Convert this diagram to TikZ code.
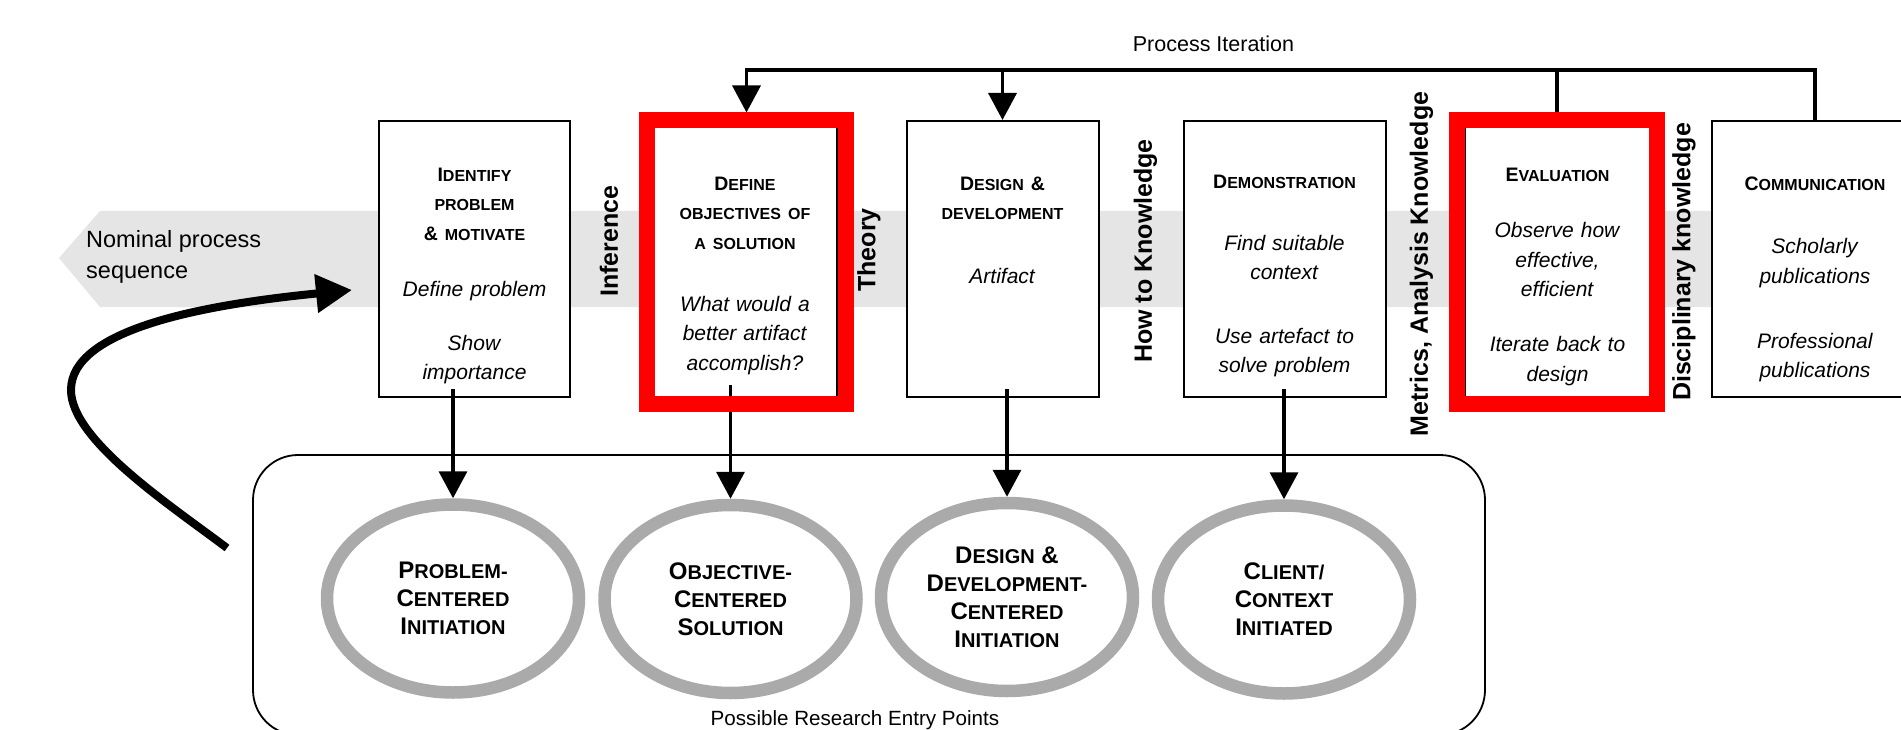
\documentclass[tikz,border=0pt]{standalone}
\usepackage{fontspec}
\setmainfont{Liberation Sans}
\usetikzlibrary{
  arrows.meta,
  calc,
  positioning,
  shapes.geometric
}
\definecolor{band gray}{RGB}{229,229,229}
\definecolor{ring gray}{RGB}{170,170,170}

% Faked small capitals for the step titles and the entry points.
\newcommand\titlebig[1]{{\bfseries\fontsize{19.5}{29.5}\selectfont #1}}
\newcommand\titlesmall[1]{{\bfseries\fontsize{16}{29.5}\selectfont #1}}
\newcommand\ringbig[1]{{\bfseries\fontsize{24}{28}\selectfont #1}}
\newcommand\ringsmall[1]{{\bfseries\fontsize{20}{28}\selectfont #1}}

\tikzset{
  % For the process step boxes.
  stage/.style={
    draw,
    line width=2pt,
    fill=white,
    inner sep=0pt,
    minimum height=276pt},
%
  % For the texts inside the step boxes.
  stage text/.style={
    text width=186pt,
    align=center,
    inner sep=0pt,
    font=\fontsize{21}{29.5}\selectfont},
%
  % For the thick red frames round the highlighted steps.
  highlight/.style={
    draw=red,
    line width=16pt,
    inner sep=0pt,
    minimum height=283pt},
%
  % For the upright knowledge labels between the boxes.
  knowledge/.style={
    rotate=90,
    inner sep=0pt,
    font=\bfseries\fontsize{25}{30}\selectfont},
%
  % For the grey entry point rings.
  ring/.style={
    ellipse,
    draw=ring gray,
    line width=12.5pt,
    inner sep=0pt,
    minimum width=252pt,
    minimum height=188pt,
    align=center,
    font=\fontsize{20}{28}\selectfont},
%
  % For the rounded box round the rings.
  entry box/.style={
    draw,
    line width=1.8pt,
    rounded corners=45pt,
    inner sep=0pt},
%
  % For plain connectors.
  line/.style={
    line width=3.5pt},
%
  % For connectors with one arrow.
  flow/.style={
    line,
    -{Triangle[length=27pt,width=28pt]}},
%
  % For the big curved arrow.
  loop arrow/.style={
    line width=8pt,
    -{Triangle[length=36pt,width=37pt]}},
%
  % For plain captions.
  caption/.style={
    inner sep=0pt,
    font=\fontsize{21.5}{26}\selectfont}
}

\begin{document}
\begin{tikzpicture}[x=1pt, y=-1pt]
  \useasboundingbox (0,0) rectangle (1901,730);
  \clip (0,0) rectangle (1901,730);

  % Nominal process sequence band.
  \fill[band gray] (59,258) -- (100,211) -- (1901,211) -- (1901,307)
                   -- (100,307) -- cycle;
  \node[caption, anchor=north west, align=left,
        font=\fontsize{23.5}{31}\selectfont] (nominal) at (86,230.5)
        {Nominal process\\sequence};

  \coordinate (loop start) at (227,548);
  \coordinate (loop end) at (352,290);
  \draw[loop arrow] (loop start) .. controls (170,505) and (71,440) .. (71,390)
                    .. controls (71,330) and (200,305) .. (loop end);

  % Process steps.
  \node[stage, minimum width=191pt] (identify) at (474.5,259) {};
  \node[stage, minimum width=183pt] (define) at (745,259) {};
  \node[stage, minimum width=192pt] (design) at (1002.5,259) {};
  \node[stage, minimum width=202pt] (demonstration) at (1284.5,259) {};
  \node[stage, minimum width=185pt] (evaluation) at (1557.5,259) {};
  \node[stage, minimum width=206pt] (communication) at (1815,259) {};

  \node[stage text, below=47.5pt of identify.north] (identify text)
    {\titlebig{I}\titlesmall{DENTIFY}\\
     \titlesmall{PROBLEM}\\
     \titlebig{\&}\titlesmall{\ MOTIVATE}\\[26.5pt]
     \textit{Define problem}\\[24.5pt]
     \textit{Show}\\ \textit{importance}};
  \node[stage text, below=56.5pt of define.north] (define text)
    {\titlebig{D}\titlesmall{EFINE}\\
     \titlesmall{OBJECTIVES OF}\\
     \titlesmall{A SOLUTION}\\[32.5pt]
     \textit{What would a}\\ \textit{better artifact}\\ \textit{accomplish?}};
  \node[stage text, below=56.5pt of design.north] (design text)
    {\titlebig{D}\titlesmall{ESIGN}\titlebig{\ \&}\\
     \titlesmall{DEVELOPMENT}\\[34pt]
     \textit{Artifact}};
  \node[stage text, below=55pt of demonstration.north] (demonstration text)
    {\titlebig{D}\titlesmall{EMONSTRATION}\\[32pt]
     \textit{Find suitable}\\ \textit{context}\\[34pt]
     \textit{Use artefact to}\\ \textit{solve problem}};
  \node[stage text, below=48pt of evaluation.north] (evaluation text)
    {\titlebig{E}\titlesmall{VALUATION}\\[26.5pt]
     \textit{Observe how}\\ \textit{effective,}\\ \textit{efficient}\\[25.5pt]
     \textit{Iterate back to}\\ \textit{design}};
  \node[stage text, below=56.5pt of communication.north] (communication text)
    {\titlebig{C}\titlesmall{OMMUNICATION}\\[34pt]
     \textit{Scholarly}\\ \textit{publications}\\[35.5pt]
     \textit{Professional}\\ \textit{publications}};

  % Knowledge labels.
  \node[knowledge] (inference) at (609,241) {Inference};
  \node[knowledge] (theory) at (869,250) {Theory};
  \node[knowledge] (how to) at (1145.5,251) {How to Knowledge};
  \node[knowledge] (metrics) at (1421.5,264) {Metrics, Analysis Knowledge};
  \node[knowledge] (disciplinary) at (1684,262) {Disciplinary knowledge};

  % Possible research entry points.
  \node[entry box, minimum width=1232pt, minimum height=280pt]
    (entry) at (869,595) {};
  \node[caption, anchor=base, font=\fontsize{20.6}{26}\selectfont]
    (entry label) at (855,725) {Possible Research Entry Points};

  \node[ring] (problem) at (453,598.5)
    {\ringbig{P}\ringsmall{ROBLEM-}\\
     \ringbig{C}\ringsmall{ENTERED}\\
     \ringbig{I}\ringsmall{NITIATION}};
  \node[ring] (objective) at (730.5,599)
    {\ringbig{O}\ringsmall{BJECTIVE-}\\
     \ringbig{C}\ringsmall{ENTERED}\\
     \ringbig{S}\ringsmall{OLUTION}};
  \node[ring] (development) at (1007,597)
    {\ringbig{D}\ringsmall{ESIGN}\ringbig{\ \&}\\
     \ringbig{D}\ringsmall{EVELOPMENT-}\\
     \ringbig{C}\ringsmall{ENTERED}\\
     \ringbig{I}\ringsmall{NITIATION}};
  \node[ring] (client) at (1284,599.5)
    {\ringbig{C}\ringsmall{LIENT/}\\
     \ringbig{C}\ringsmall{ONTEXT}\\
     \ringbig{I}\ringsmall{NITIATED}};

  \draw[flow] ($(identify.south -| problem.north) + (0,-9)$) -- (problem.north);
  \draw[flow] ($(define.south -| objective.north) + (0,-13)$) -- (objective.north);
  \draw[flow] ($(design.south -| development.north) + (0,-9)$)
                -- (development.north);
  \draw[flow] ($(demonstration.south -| client.north) + (0,-9)$)
                -- (client.north);

  % Red frames go over the connectors.
  \node[highlight, minimum width=199pt] (define frame) at (746.5,262) {};
  \node[highlight, minimum width=200pt] (evaluation frame) at (1557,262) {};

  % Process iteration.
  \node[caption, anchor=base] (iteration label) at (1213.5,51.7)
    {Process Iteration};
  \coordinate (iteration) at (1213.5,70);
  \draw[flow] (communication.north) |- (define frame.north |- iteration)
                -- (define frame.north);
  \draw[flow] (design.north |- iteration) -- (design.north);
  \draw[line] (evaluation frame.north |- iteration) -- (evaluation frame.north);
\end{tikzpicture}
\end{document}
